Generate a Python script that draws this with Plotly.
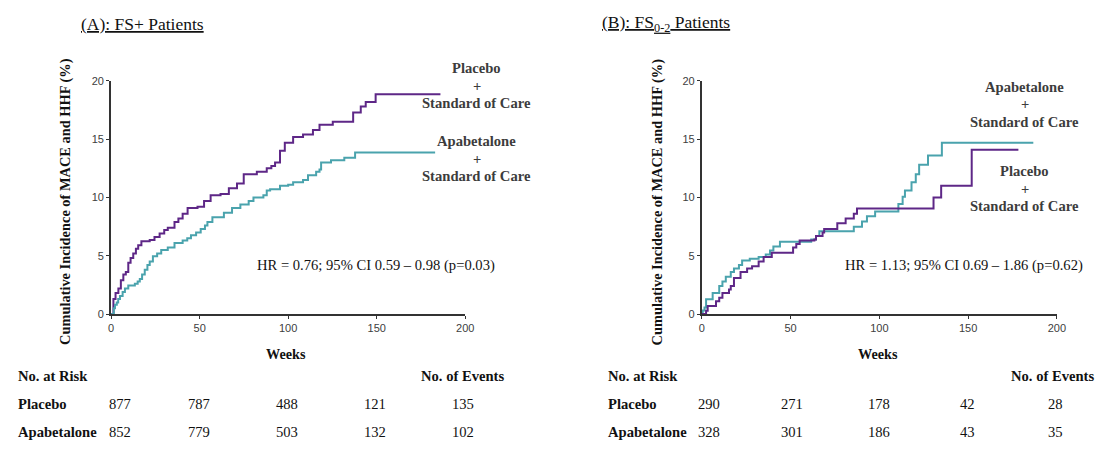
import plotly.graph_objects as go

W, H = 1105, 449

# ---------------- data ----------------
a_plac_weeks = [0, 1.3, 2.5, 4.1, 5.5, 6.9, 8.3, 9.7, 11, 12.5, 14, 15.3, 17.1, 21.8, 24.5, 27.4, 30, 32,
                35.8, 38, 40.4, 43.2, 48.8, 52.5, 56.2, 61.8, 66.5, 71.1, 74.9, 82.3, 87.9, 90.5, 92.6, 95.4,
                98.1, 102.8, 108.4, 114, 117.7, 125.2, 136.7, 141, 143.8, 149.4, 186]
a_plac_vals = [0, 1.3, 1.8, 2.2, 2.9, 3.4, 3.6, 4.4, 4.8, 5.2, 5.6, 5.9, 6.25, 6.35, 6.6, 6.9, 7.2, 7.4,
               7.9, 8.2, 8.6, 9.1, 9.2, 9.7, 10.2, 10.3, 10.8, 11.2, 12.0, 12.2, 12.5, 12.7, 13.0, 14.0,
               14.7, 15.2, 15.4, 15.8, 16.25, 16.5, 17.3, 17.8, 18.2, 18.85, 18.85]

a_apab_weeks = [0, 1.5, 2.2, 3.2, 4, 5, 6.5, 7.8, 9.7, 13.4, 15, 16.2, 17.5, 19, 20.5, 21.8, 23.6, 26,
                28.3, 32, 35.8, 40.4, 43, 45.1, 48, 50.6, 53, 54.4, 57.2, 63.7, 68.3, 73, 77.7, 80.4, 86,
                87.9, 89.8, 95.4, 100, 102.8, 108.4, 111.2, 115.8, 117.7, 118.6, 124.2, 131.7, 137.8, 183]
a_apab_vals = [0, 0.5, 0.8, 1.0, 1.3, 1.55, 1.9, 2.2, 2.45, 2.6, 2.8, 3.0, 3.4, 3.8, 4.2, 4.5, 4.95, 5.2,
               5.5, 5.7, 6.1, 6.3, 6.5, 6.75, 7.0, 7.3, 7.6, 7.9, 8.3, 8.7, 9.1, 9.4, 9.7, 10.0, 10.2,
               10.6, 10.7, 11.0, 11.1, 11.3, 11.5, 11.9, 12.2, 12.4, 13.0, 13.2, 13.4, 13.85, 13.85]

b_plac_weeks = [0, 2.4, 3.3, 8, 9.8, 11.6, 15.3, 16.3, 18.1, 21.8, 25.5, 28.3, 32, 34.8, 39.4, 51.4, 53.2,
                55.1, 63.4, 64.3, 68, 68.9, 76.3, 81, 85.6, 87.4, 130.5, 134.8, 152.0, 178.3]
b_plac_vals = [0, 0.28, 0.7, 1.1, 1.4, 1.8, 2.1, 2.4, 3.1, 3.6, 3.9, 4.1, 4.5, 4.9, 5.25, 5.7, 6.0,
               6.3, 6.4, 6.7, 7.0, 7.3, 7.8, 8.2, 8.6, 9.05, 10.0, 11.0, 14.1, 14.1]

b_apab_weeks = [0, 0.5, 1.5, 2.4, 6.1, 9.8, 11.6, 13.5, 16.3, 18.1, 20.9, 22.7, 27, 32, 36, 38.4, 40.3, 44,
                61.6, 64.3, 66.2, 85.6, 90.2, 93, 97.6, 110.7, 113.1, 114.4, 118.1, 120.5, 122.4, 127.4,
                135.2, 186.7]
b_apab_vals = [0, 0.3, 0.56, 1.26, 1.8, 2.4, 2.8, 3.2, 3.6, 3.9, 4.2, 4.6, 4.75, 4.9, 5.1, 5.45, 5.8, 6.2,
               6.4, 6.7, 7.1, 7.5, 7.95, 8.4, 8.8, 9.45, 10.06, 10.6, 11.3, 12.0, 12.8, 13.6, 14.7, 14.7]

x_ticks = [0, 50, 100, 150, 200]
y_ticks = [0, 5, 10, 15, 20]

a_risk_placebo = ["877", "787", "488", "121"]
a_risk_apab = ["852", "779", "503", "132"]
a_events = ["135", "102"]
b_risk_placebo = ["290", "271", "178", "42"]
b_risk_apab = ["328", "301", "186", "43"]
b_events = ["28", "35"]

titles = ["<u>(A): FS+ Patients</u>", "<u>(B): FS<sub>0-2</sub> Patients</u>"]
hr_texts = ["HR = 0.76; 95% CI 0.59 \u2013 0.98 (p=0.03)", "HR = 1.13; 95% CI 0.69 \u2013 1.86 (p=0.62)"]

# ---------------- style ----------------
PURPLE = "#5e2787"
TEAL = "#4aa3ad"
SERIF = "Liberation Serif"
SANS = "Liberation Sans"
AX = "#333333"
FS = 14.6

fig = go.Figure()

def px_x(p):
    return p / W

def px_y(p):
    return 1 - p / H

xa_dom = [px_x(109.3), px_x(467.3)]
xb_dom = [px_x(706.5), px_x(1065.5)]
y_dom = [px_y(316.5), px_y(77)]

fig.add_trace(go.Scatter(x=a_plac_weeks, y=a_plac_vals, mode="lines", line=dict(color=PURPLE, width=2, shape="hv"),
                         xaxis="x", yaxis="y", showlegend=False, hoverinfo="skip"))
fig.add_trace(go.Scatter(x=a_apab_weeks, y=a_apab_vals, mode="lines", line=dict(color=TEAL, width=2, shape="hv"),
                         xaxis="x", yaxis="y", showlegend=False, hoverinfo="skip"))
fig.add_trace(go.Scatter(x=b_apab_weeks, y=b_apab_vals, mode="lines", line=dict(color=TEAL, width=2, shape="hv"),
                         xaxis="x2", yaxis="y2", showlegend=False, hoverinfo="skip"))
fig.add_trace(go.Scatter(x=b_plac_weeks, y=b_plac_vals, mode="lines", line=dict(color=PURPLE, width=2, shape="hv"),
                         xaxis="x2", yaxis="y2", showlegend=False, hoverinfo="skip"))

axis_common = dict(showgrid=False, zeroline=False, showline=True, linecolor=AX, linewidth=2,
                   ticks="outside", ticklen=3, tickwidth=1, tickcolor=AX,
                   tickfont=dict(family=SANS, size=11, color="#404040"), fixedrange=True)

fig.update_layout(
    width=W, height=H,
    margin=dict(l=0, r=0, t=0, b=0),
    paper_bgcolor="white", plot_bgcolor="white",
    xaxis=dict(domain=xa_dom, range=[0, 200], tickvals=x_ticks, anchor="y", **axis_common),
    yaxis=dict(domain=y_dom, range=[0, 20], tickvals=y_ticks, anchor="x", **axis_common),
    xaxis2=dict(domain=xb_dom, range=[0, 200], tickvals=x_ticks, anchor="y2", **axis_common),
    yaxis2=dict(domain=y_dom, range=[0, 20], tickvals=y_ticks, anchor="x2", **axis_common),
)

ann = []

def text(x, y, t, size=FS, bold=False, color="#111111", xanchor="center", angle=0):
    ann.append(dict(x=px_x(x), y=px_y(y), xref="paper", yref="paper", text=(f"<b>{t}</b>" if bold else t),
                    showarrow=False, xanchor=xanchor, yanchor="middle", textangle=angle,
                    font=dict(family=SERIF, size=size, color=color)))

# titles
text(77, 18, titles[0], size=17.5, xanchor="left")
text(604, 18, titles[1], size=17.5, xanchor="left")

# y-axis titles
text(63, 201, "Cumulative Incidence of MACE and HHF (%)", size=14.4, bold=True, angle=-90)
text(662, 201, "Cumulative Incidence of MACE and HHF (%)", size=14.4, bold=True, angle=-90)

# x-axis titles
text(286, 358, "Weeks", size=14.2, bold=True)
text(885, 358, "Weeks", size=14.2, bold=True)

# curve labels
LBL = "#3c3c3c"
for i, (cx, cy) in enumerate([(479, 64), (479, 139)]):
    name = ["Placebo", "Apabetalone"][i]
    text(cx, cy, name, bold=True, color=LBL)
    text(cx, cy + 18, "+", bold=True, color=LBL)
    text(cx, cy + 36, "Standard of Care", bold=True, color=LBL)
for i, (cx, cy) in enumerate([(1033, 83), (1033, 170)]):
    name = ["Apabetalone", "Placebo"][i]
    text(cx, cy, name, bold=True, color=LBL)
    text(cx, cy + 18, "+", bold=True, color=LBL)
    text(cx, cy + 36, "Standard of Care", bold=True, color=LBL)

# HR texts
text(377, 267, hr_texts[0])
text(972, 267, hr_texts[1])

# risk tables
def table(left, risk_p, risk_a, events, cols, ev_x):
    text(left, 380, "No. at Risk", bold=True, xanchor="left")
    text(ev_x, 380, "No. of Events", bold=True)
    text(left, 409, "Placebo", bold=True, xanchor="left")
    text(left, 438, "Apabetalone", bold=True, xanchor="left")
    for cx, v in zip(cols, risk_p):
        text(cx, 409, v)
    for cx, v in zip(cols, risk_a):
        text(cx, 438, v)
    text(cols[-1] + (cols[-1] - cols[-2]), 409, events[0])
    text(cols[-1] + (cols[-1] - cols[-2]), 438, events[1])

table(13, a_risk_placebo, a_risk_apab, a_events, [118, 198, 287, 376], 465)
table(610, b_risk_placebo, b_risk_apab, b_events, [714, 798, 886, 975], 1061)

fig.update_layout(annotations=ann)

post = (
    "document.documentElement.style.margin='0';document.body.style.margin='0';"
    "document.documentElement.style.overflow='hidden';document.body.style.overflow='hidden';"
)

fig.write_html("out.html", config={"displayModeBar": False}, post_script=post)
